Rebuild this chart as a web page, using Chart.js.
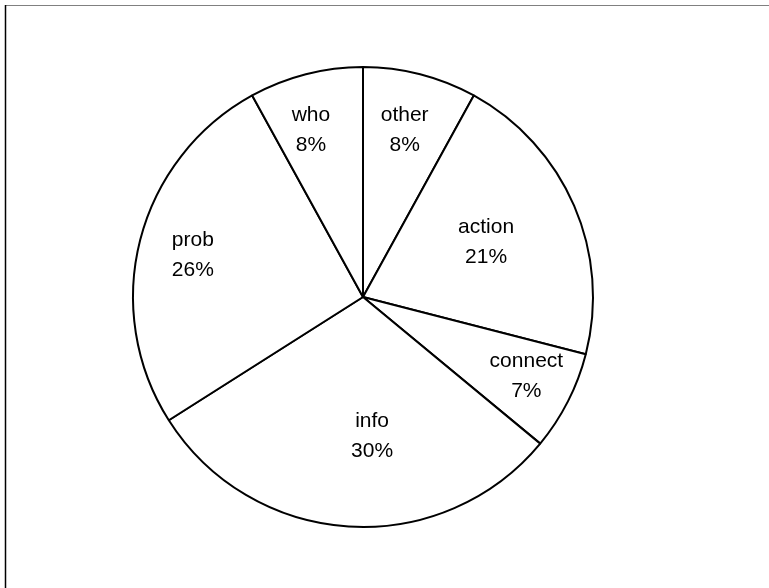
<!DOCTYPE html>
<html>
<head>
<meta charset="utf-8">
<script src="https://cdn.jsdelivr.net/npm/chart.js@4"></script>
<style>
    html, body { margin: 0; padding: 0; background: #fff; }
    #wrap { position: relative; width: 769px; height: 588px; }
</style>
</head>
<body>
<div id="wrap"><canvas id="pieChart" width="769" height="588"></canvas></div>
<script>
// --- data ---
const categories = ['other', 'action', 'connect', 'info', 'prob', 'who'];
const shares = [8, 21, 7, 30, 26, 8];

// label placement (fraction of radius, angle nudge in degrees)
const labelRadius = [0.754, 0.59, 0.785, 0.596, 0.764, 0.766];
const labelNudge = [-0.5, -1.5, -1.8, -7.4, 0, -2.8];

// frame lines at the top-left like the original export
const framePlugin = {
    id: 'frame',
    beforeDraw(chart) {
        const ctx = chart.ctx;
        ctx.save();
        ctx.lineWidth = 1;
        ctx.strokeStyle = '#808080';
        ctx.beginPath();
        ctx.moveTo(5, 5.5);
        ctx.lineTo(chart.width, 5.5);
        ctx.stroke();
        ctx.strokeStyle = '#000';
        ctx.lineWidth = 1.5;
        ctx.beginPath();
        ctx.moveTo(5.5, 5);
        ctx.lineTo(5.5, chart.height);
        ctx.stroke();
        ctx.restore();
    }
};

const sliceLabels = {
    id: 'sliceLabels',
    afterDatasetsDraw(chart) {
        const ctx = chart.ctx;
        const meta = chart.getDatasetMeta(0);
        ctx.save();
        ctx.fillStyle = '#000';
        ctx.font = '21px "Liberation Sans", Arial, sans-serif';
        ctx.textAlign = 'center';
        ctx.textBaseline = 'middle';
        meta.data.forEach((arc, i) => {
            const mid = (arc.startAngle + arc.endAngle) / 2 + labelNudge[i] * Math.PI / 180;
            const r = arc.outerRadius * labelRadius[i];
            const x = arc.x + Math.cos(mid) * r;
            const y = arc.y + Math.sin(mid) * r + 2;
            ctx.fillText(categories[i], x, y - 15);
            ctx.fillText(shares[i] + '%', x, y + 15);
        });
        ctx.restore();
    }
};

new Chart(document.getElementById('pieChart').getContext('2d'), {
    type: 'pie',
    data: {
        labels: categories,
        datasets: [{
            data: shares,
            backgroundColor: '#fff',
            borderColor: '#000',
            borderWidth: 2
        }]
    },
    options: {
        responsive: false,
        animation: false,
        radius: 230,
        layout: { padding: { left: 0, right: 43, top: 6, bottom: 0 } },
        plugins: { legend: { display: false }, tooltip: { enabled: false } }
    },
    plugins: [framePlugin, sliceLabels]
});
</script>
</body>
</html>
